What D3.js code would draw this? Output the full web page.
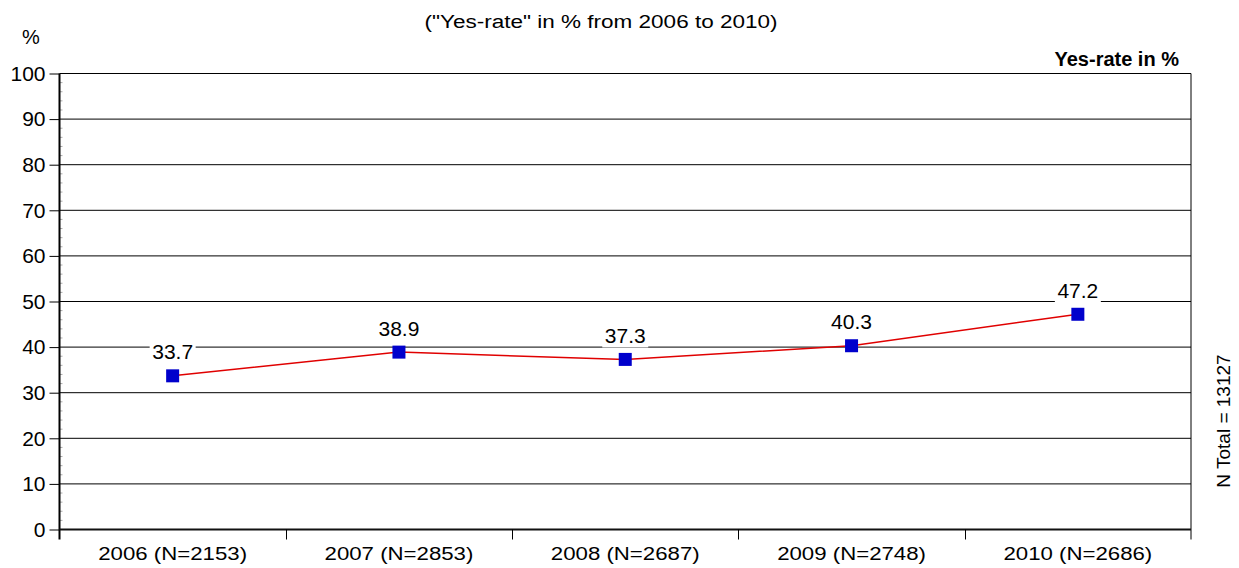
<!DOCTYPE html>
<html><head><meta charset="utf-8">
<script src="https://cdn.jsdelivr.net/npm/d3@7"></script>
<style>body{margin:0;background:#fff}svg{display:block;font-family:"Liberation Sans",Arial,sans-serif}</style>
</head><body>
<svg id="c" width="1239" height="568"></svg>
<script>
const categories = ["2006 (N=2153)","2007 (N=2853)","2008 (N=2687)","2009 (N=2748)","2010 (N=2686)"];
const yesRate = [33.7, 38.9, 37.3, 40.3, 47.2];
const yTicks = [0,10,20,30,40,50,60,70,80,90,100];
const titleText = '("Yes-rate" in % from 2006 to 2010)';
const seriesName = "Yes-rate in %";
const nTotal = "N Total = 13127";

const FF = "Liberation Sans, Arial, sans-serif";
const svg = d3.select("#c");
const L=59.5,R=1191,T=73.5,B=529.5;
const x = d3.scaleBand().domain(categories).range([L,R]);
const y = d3.scaleLinear().domain([0,100]).range([B,T]);

// gridlines
svg.append("g").selectAll("line").data(yTicks.filter(d=>d>0)).join("line")
  .attr("x1",L).attr("x2",R).attr("y1",d=>y(d)).attr("y2",d=>y(d))
  .attr("stroke","#000").attr("stroke-width",1);

// right border
svg.append("line").attr("x1",R).attr("x2",R).attr("y1",T).attr("y2",B+10).attr("stroke","#000");

// y axis
const ya = svg.append("g").attr("transform",`translate(${L},0)`)
  .call(d3.axisLeft(y).tickValues(yTicks).tickSize(10).tickPadding(4));
ya.select(".domain").remove();
ya.selectAll("text").attr("font-size",21).attr("fill","#000").attr("font-family",FF);
ya.selectAll("line").attr("stroke","#000");
// minor ticks
svg.append("g").selectAll("line").data(d3.range(0,101,2).filter(d=>d%10!==0)).join("line")
  .attr("x1",L).attr("x2",L+3).attr("y1",d=>y(d)).attr("y2",d=>y(d)).attr("stroke","#aaa").attr("stroke-width",1);
svg.append("line").attr("x1",L).attr("x2",L).attr("y1",T).attr("y2",B+10).attr("stroke","#000").attr("stroke-width",2);

// x axis
const xa = svg.append("g").attr("transform",`translate(0,${B})`)
  .call(d3.axisBottom(x).tickSize(0).tickPadding(17));
xa.select(".domain").remove();
xa.selectAll("text").attr("font-size",19).attr("fill","#000").attr("font-family",FF).attr("transform","scale(1.17,1)");
svg.append("line").attr("x1",L).attr("x2",R).attr("y1",B).attr("y2",B).attr("stroke","#111").attr("stroke-width",2);
svg.append("g").selectAll("line").data(categories.slice(1)).join("line")
  .attr("x1",d=>Math.round(x(d))+0.5).attr("x2",d=>Math.round(x(d))+0.5).attr("y1",B).attr("y2",B+10).attr("stroke","#000");

const cx = d=>x(d)+x.bandwidth()/2;
const pts = categories.map((c,i)=>[cx(c), y(yesRate[i])]);

// labels with white background
const lg = svg.append("g").selectAll("g").data(pts).join("g")
  .attr("transform",d=>`translate(${d[0]},${d[1]-24})`);
lg.append("rect").attr("x",-23).attr("y",-12).attr("width",46).attr("height",24).attr("fill","#fff");
lg.append("text").text((d,i)=>yesRate[i].toFixed(1)).attr("text-anchor","middle").attr("dy","0.36em")
  .attr("font-size",21).attr("fill","#000");

// line
svg.append("path").datum(pts).attr("d",d3.line()).attr("fill","none").attr("stroke","#e00000").attr("stroke-width",1.5);
svg.append("g").selectAll("rect").data(pts).join("rect")
  .attr("x",d=>d[0]-6.5).attr("y",d=>d[1]-6.5).attr("width",13).attr("height",13).attr("fill","#0000cc");

// texts
svg.append("text").text(titleText).attr("transform","translate(601,28) scale(1.185,1)").attr("text-anchor","middle").attr("font-size",19);
svg.append("text").text("%").attr("x",31).attr("y",44).attr("text-anchor","middle").attr("font-size",20);
svg.append("text").text(seriesName).attr("x",1179).attr("y",66).attr("text-anchor","end").attr("font-size",20).attr("font-weight","bold");
svg.append("text").text(nTotal).attr("transform","translate(1230,421) rotate(-90)").attr("text-anchor","middle").attr("font-size",19);
</script>
</body></html>
